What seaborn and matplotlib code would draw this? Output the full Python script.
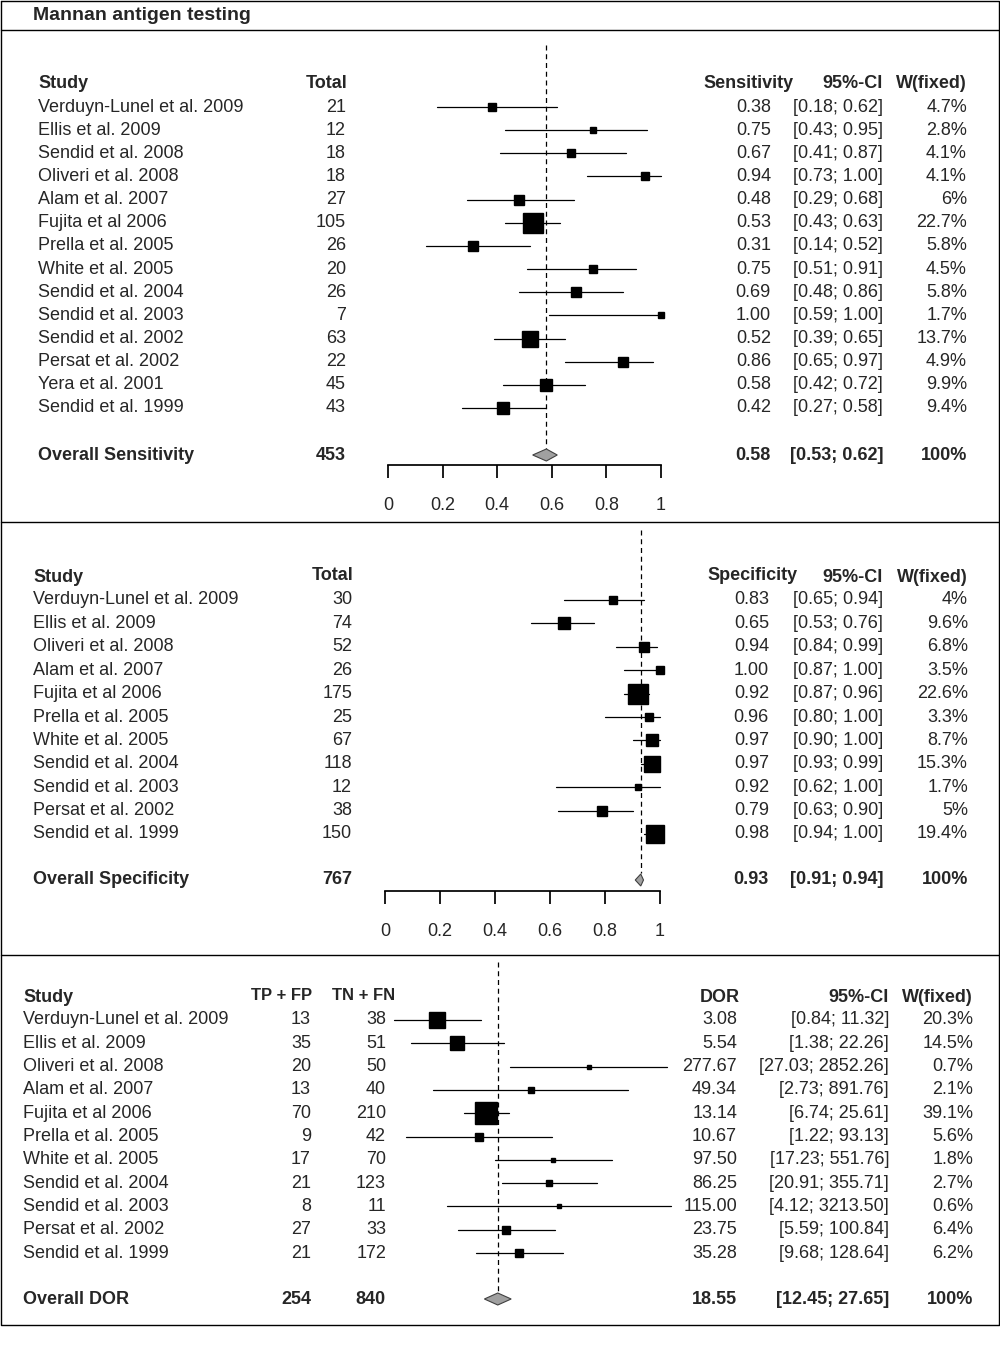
import numpy as np
import matplotlib
matplotlib.use("Agg")
import matplotlib.pyplot as plt
import seaborn as sns

# data
sens_study = ["Verduyn-Lunel et al. 2009", "Ellis et al. 2009", "Sendid et al. 2008", "Oliveri et al. 2008",
              "Alam et al. 2007", "Fujita et al 2006", "Prella et al. 2005", "White et al. 2005",
              "Sendid et al. 2004", "Sendid et al. 2003", "Sendid et al. 2002", "Persat et al. 2002",
              "Yera et al. 2001", "Sendid et al. 1999"]
sens_total = [21, 12, 18, 18, 27, 105, 26, 20, 26, 7, 63, 22, 45, 43]
sens_est = [0.38, 0.75, 0.67, 0.94, 0.48, 0.53, 0.31, 0.75, 0.69, 1.00, 0.52, 0.86, 0.58, 0.42]
sens_lo = [0.18, 0.43, 0.41, 0.73, 0.29, 0.43, 0.14, 0.51, 0.48, 0.59, 0.39, 0.65, 0.42, 0.27]
sens_hi = [0.62, 0.95, 0.87, 1.00, 0.68, 0.63, 0.52, 0.91, 0.86, 1.00, 0.65, 0.97, 0.72, 0.58]
sens_w = [4.7, 2.8, 4.1, 4.1, 6, 22.7, 5.8, 4.5, 5.8, 1.7, 13.7, 4.9, 9.9, 9.4]
sens_overall = (453, 0.58, 0.53, 0.62)

spec_study = ["Verduyn-Lunel et al. 2009", "Ellis et al. 2009", "Oliveri et al. 2008", "Alam et al. 2007",
              "Fujita et al 2006", "Prella et al. 2005", "White et al. 2005", "Sendid et al. 2004",
              "Sendid et al. 2003", "Persat et al. 2002", "Sendid et al. 1999"]
spec_total = [30, 74, 52, 26, 175, 25, 67, 118, 12, 38, 150]
spec_est = [0.83, 0.65, 0.94, 1.00, 0.92, 0.96, 0.97, 0.97, 0.92, 0.79, 0.98]
spec_lo = [0.65, 0.53, 0.84, 0.87, 0.87, 0.80, 0.90, 0.93, 0.62, 0.63, 0.94]
spec_hi = [0.94, 0.76, 0.99, 1.00, 0.96, 1.00, 1.00, 0.99, 1.00, 0.90, 1.00]
spec_w = [4, 9.6, 6.8, 3.5, 22.6, 3.3, 8.7, 15.3, 1.7, 5, 19.4]
spec_overall = (767, 0.93, 0.91, 0.94)

dor_study = spec_study
dor_tpfp = [13, 35, 20, 13, 70, 9, 17, 21, 8, 27, 21]
dor_tnfn = [38, 51, 50, 40, 210, 42, 70, 123, 11, 33, 172]
dor_est = [3.08, 5.54, 277.67, 49.34, 13.14, 10.67, 97.50, 86.25, 115.00, 23.75, 35.28]
dor_lo = [0.84, 1.38, 27.03, 2.73, 6.74, 1.22, 17.23, 20.91, 4.12, 5.59, 9.68]
dor_hi = [11.32, 22.26, 2852.26, 891.76, 25.61, 93.13, 551.76, 355.71, 3213.50, 100.84, 128.64]
dor_w = [20.3, 14.5, 0.7, 2.1, 39.1, 5.6, 1.8, 2.7, 0.6, 6.4, 6.2]
dor_overall = (254, 840, 18.55, 12.45, 27.65)

sns.set_theme(style="white")
plt.rcParams["font.family"] = ["Liberation Sans", "DejaVu Sans"]
FS = 13

W, H = 1000, 1353
fig = plt.figure(figsize=(10, 13.53), dpi=100)
bg = fig.add_axes([0, 0, 1, 1])
bg.set_xlim(0, W)
bg.set_ylim(H, 0)
bg.axis("off")

# frame
lk = dict(color="black", lw=1)
bg.plot([1, 999, 999, 1, 1], [1, 1, 1325, 1325, 1], **lk)
for yy in [30, 522, 955]:
    bg.plot([1, 999], [yy, yy], **lk)
bg.text(33, 15, "Mannan antigen testing", fontsize=14, fontweight="bold", va="center")


def forest_axes(x0, x1, y0, y1):
    ax = fig.add_axes([x0 / W, 1 - y1 / H, (x1 - x0) / W, (y1 - y0) / H])
    ax.set_ylim(y1, y0)
    ax.patch.set_alpha(0)
    for s in ax.spines.values():
        s.set_visible(False)
    ax.set_yticks([])
    return ax


def draw_forest(ax, est, lo, hi, w, rows, ov, ov_y, line_top, ms_max):
    wmax = max(w)
    for e, l, h, ww, y in zip(est, lo, hi, w, rows):
        ax.plot([l, h], [y, y], color="black", lw=0.9, clip_on=False)
        ms = max(ms_max * np.sqrt(ww / wmax), 3.5)
        ax.plot(e, y, marker="s", ms=ms, color="black", clip_on=False)
    e, l, h = ov
    ax.fill([l, e, h, e], [ov_y, ov_y - 6, ov_y, ov_y + 6], facecolor="#a0a0a0",
            edgecolor="#404040", lw=0.8, clip_on=False)
    ax.plot([e, e], [line_top, ov_y - 7], color="black", lw=0.9, ls=(0, (4, 3)), clip_on=False)


def rows_from(start, step, n):
    return [start + step * i for i in range(n)]


# ---------- panel 1: sensitivity ----------
r1 = rows_from(107, 23.15, len(sens_study))
ov1 = 455
ax1 = forest_axes(388, 661, 45, 465)
ax1.set_xlim(0, 1)
draw_forest(ax1, sens_est, sens_lo, sens_hi, sens_w, r1, sens_overall[1:], ov1, 45, 14)
ax1.spines["bottom"].set_visible(True)
ax1.spines["bottom"].set_color("black")
ax1.spines["bottom"].set_bounds(0, 1)
ax1.set_xticks([0, 0.2, 0.4, 0.6, 0.8, 1])
ax1.set_xticklabels(["0", "0.2", "0.4", "0.6", "0.8", "1"], fontsize=FS)
ax1.tick_params(axis="x", bottom=True, length=9, color="black", pad=14)

bg.text(38, 83, "Study", fontsize=FS, fontweight="bold", va="center")
bg.text(347, 83, "Total", fontsize=FS, fontweight="bold", va="center", ha="right")
bg.text(794, 83, "Sensitivity", fontsize=FS, fontweight="bold", va="center", ha="right")
bg.text(883, 83, "95%-CI", fontsize=FS, fontweight="bold", va="center", ha="right")
bg.text(967, 83, "W(fixed)", fontsize=FS, fontweight="bold", va="center", ha="right")
for s, t, e, l, h, ww, y in zip(sens_study, sens_total, sens_est, sens_lo, sens_hi, sens_w, r1):
    bg.text(38, y, s, fontsize=FS, va="center")
    bg.text(346, y, str(t), fontsize=FS, va="center", ha="right")
    bg.text(771, y, f"{e:.2f}", fontsize=FS, va="center", ha="right")
    bg.text(883, y, f"[{l:.2f}; {h:.2f}]", fontsize=FS, va="center", ha="right")
    bg.text(967, y, f"{ww:g}%", fontsize=FS, va="center", ha="right")
t, e, l, h = sens_overall
bg.text(38, ov1, "Overall Sensitivity", fontsize=FS, fontweight="bold", va="center")
bg.text(346, ov1, str(t), fontsize=FS, fontweight="bold", va="center", ha="right")
bg.text(771, ov1, f"{e:.2f}", fontsize=FS, fontweight="bold", va="center", ha="right")
bg.text(883, ov1, f"[{l:.2f}; {h:.2f}]", fontsize=FS, fontweight="bold", va="center", ha="right")
bg.text(967, ov1, "100%", fontsize=FS, fontweight="bold", va="center", ha="right")

# ---------- panel 2: specificity ----------
r2 = rows_from(600, 23.4, len(spec_study))
ov2 = 880
ax2 = forest_axes(385, 660, 530, 891)
ax2.set_xlim(0, 1)
draw_forest(ax2, spec_est, spec_lo, spec_hi, spec_w, r2, spec_overall[1:], ov2, 530, 14)
ax2.spines["bottom"].set_visible(True)
ax2.spines["bottom"].set_color("black")
ax2.spines["bottom"].set_bounds(0, 1)
ax2.set_xticks([0, 0.2, 0.4, 0.6, 0.8, 1])
ax2.set_xticklabels(["0", "0.2", "0.4", "0.6", "0.8", "1"], fontsize=FS)
ax2.tick_params(axis="x", bottom=True, length=9, color="black", pad=14)

bg.text(33, 577, "Study", fontsize=FS, fontweight="bold", va="center")
bg.text(353, 576, "Total", fontsize=FS, fontweight="bold", va="center", ha="right")
bg.text(798, 575, "Specificity", fontsize=FS, fontweight="bold", va="center", ha="right")
bg.text(883, 577, "95%-CI", fontsize=FS, fontweight="bold", va="center", ha="right")
bg.text(968, 577, "W(fixed)", fontsize=FS, fontweight="bold", va="center", ha="right")
for s, t, e, l, h, ww, y in zip(spec_study, spec_total, spec_est, spec_lo, spec_hi, spec_w, r2):
    bg.text(33, y, s, fontsize=FS, va="center")
    bg.text(352, y, str(t), fontsize=FS, va="center", ha="right")
    bg.text(769, y, f"{e:.2f}", fontsize=FS, va="center", ha="right")
    bg.text(883, y, f"[{l:.2f}; {h:.2f}]", fontsize=FS, va="center", ha="right")
    bg.text(968, y, f"{ww:g}%", fontsize=FS, va="center", ha="right")
t, e, l, h = spec_overall
bg.text(33, ov2, "Overall Specificity", fontsize=FS, fontweight="bold", va="center")
bg.text(352, ov2, str(t), fontsize=FS, fontweight="bold", va="center", ha="right")
bg.text(769, ov2, f"{e:.2f}", fontsize=FS, fontweight="bold", va="center", ha="right")
bg.text(883, ov2, f"[{l:.2f}; {h:.2f}]", fontsize=FS, fontweight="bold", va="center", ha="right")
bg.text(968, ov2, "100%", fontsize=FS, fontweight="bold", va="center", ha="right")

# ---------- panel 3: diagnostic odds ratio ----------
r3 = rows_from(1020, 23.3, len(dor_study))
ov3 = 1299
ax3 = forest_axes(392, 678, 962, 1310)
ax3.set_xscale("log")
ax3.set_xlim(10 ** -0.1, 10 ** 3.6)
ax3.set_xticks([])
ax3.minorticks_off()
draw_forest(ax3, dor_est, dor_lo, dor_hi, dor_w, r3, dor_overall[2:], ov3, 962, 16)

bg.text(23, 997, "Study", fontsize=FS, fontweight="bold", va="center")
bg.text(312, 995, "TP + FP", fontsize=12, fontweight="bold", va="center", ha="right")
bg.text(395, 995, "TN + FN", fontsize=12, fontweight="bold", va="center", ha="right")
bg.text(740, 998, "DOR", fontsize=FS, fontweight="bold", va="center", ha="right")
bg.text(889, 998, "95%-CI", fontsize=FS, fontweight="bold", va="center", ha="right")
bg.text(973, 998, "W(fixed)", fontsize=FS, fontweight="bold", va="center", ha="right")
for s, a, b, e, l, h, ww, y in zip(dor_study, dor_tpfp, dor_tnfn, dor_est, dor_lo, dor_hi, dor_w, r3):
    bg.text(23, y, s, fontsize=FS, va="center")
    bg.text(311, y, str(a), fontsize=FS, va="center", ha="right")
    bg.text(386, y, str(b), fontsize=FS, va="center", ha="right")
    bg.text(737, y, f"{e:.2f}", fontsize=FS, va="center", ha="right")
    bg.text(889, y, f"[{l:.2f}; {h:.2f}]", fontsize=FS, va="center", ha="right")
    bg.text(973, y, f"{ww:g}%", fontsize=FS, va="center", ha="right")
a, b, e, l, h = dor_overall
bg.text(23, ov3, "Overall DOR", fontsize=FS, fontweight="bold", va="center")
bg.text(311, ov3, str(a), fontsize=FS, fontweight="bold", va="center", ha="right")
bg.text(386, ov3, str(b), fontsize=FS, fontweight="bold", va="center", ha="right")
bg.text(737, ov3, f"{e:.2f}", fontsize=FS, fontweight="bold", va="center", ha="right")
bg.text(889, ov3, f"[{l:.2f}; {h:.2f}]", fontsize=FS, fontweight="bold", va="center", ha="right")
bg.text(973, ov3, "100%", fontsize=FS, fontweight="bold", va="center", ha="right")

fig.savefig("out.png", dpi=100, facecolor="white")
